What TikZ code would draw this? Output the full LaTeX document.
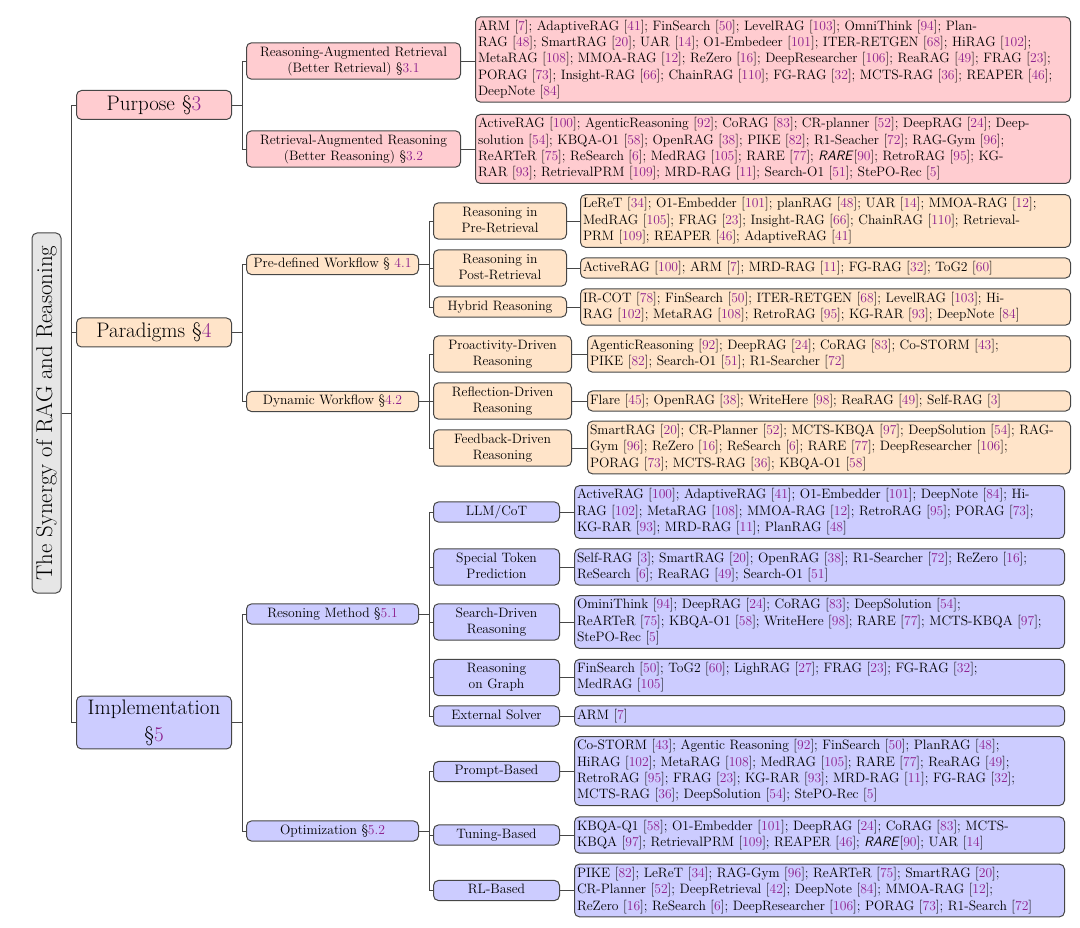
\documentclass[tikz,border=0pt]{standalone}
\usepackage{xcolor}
\usepackage{tikz}

\definecolor{citecol}{RGB}{140,30,140}
\definecolor{boxline}{RGB}{70,70,70}
\definecolor{rootfill}{RGB}{230,230,230}
\definecolor{pinkfill}{RGB}{255,204,208}
\definecolor{peachfill}{RGB}{255,228,201}
\definecolor{lavfill}{RGB}{204,204,255}

\newcommand{\rf}[1]{[{\color{citecol}#1}]}
\newcommand{\secref}[1]{\S{\color{citecol}#1}}

\begin{document}
\begin{tikzpicture}[x=1pt, y=-1pt,
    box/.style={draw=boxline, line width=1pt, rounded corners=5pt},
    small/.style={font=\fontsize{13.6}{16.3}\selectfont, inner ysep=1.9pt,
        execute at begin node=\strut, execute at end node=\strut},
    catA/.style={box, font=\fontsize{21}{27}\selectfont, align=center, inner xsep=0pt,
        inner ysep=3.5pt, minimum height=29pt, anchor=west, text width=155pt},
    catB/.style={box, small, align=center, inner xsep=0pt, anchor=west, text width=#1},
    leaf/.style={box, small, align=left, inner xsep=2.5pt, anchor=west, text width=#1},
    link/.style={draw=boxline, line width=0.8pt},
    pur/.style={fill=pinkfill},
    par/.style={fill=peachfill},
    imp/.style={fill=lavfill}]
    \useasboundingbox (0,0) rectangle (1080,928);

    % Root
    \node[box, fill=rootfill, rotate=90, minimum width=360pt, minimum height=29pt, inner sep=0pt,
        font=\fontsize{22.8}{26}\selectfont] (root) at (46.5,413) {The Synergy of RAG and Reasoning};

    % Level 1
    \node[catA, pur] (purpose) at (76,105) {Purpose \secref{3}};
    \node[catA, par] (paradigm) at (76,332.5) {Paradigms \secref{4}};
    \node[catA, imp] (implem) at (76,722.5) {Implementation\\\secref{5}};

    \draw[link] (root.south) -- ++(10,0) |- (purpose.west);
    \draw[link] (root.south) -- ++(10,0) |- (paradigm.west);
    \draw[link] (root.south) -- ++(10,0) |- (implem.west);

    % Purpose
    \node[catB=214pt, pur] (rar) at (246,61) {Reasoning-Augmented Retrieval\\(Better Retrieval) \secref{3.1}};
    \node[catB=214pt, pur] (rarg) at (246,149) {Retrieval-Augmented Reasoning\\(Better Reasoning) \secref{3.2}};
    \draw[link] (purpose.east) -- ++(10,0) |- (rar.west);
    \draw[link] (purpose.east) -- ++(10,0) |- (rarg.west);

    \node[leaf=590pt, pur] (lrar) at (475,59.5) {ARM \rf{7}; AdaptiveRAG \rf{41}; FinSearch \rf{50}; LevelRAG \rf{103}; OmniThink \rf{94}; Plan-\\
        RAG \rf{48}; SmartRAG \rf{20}; UAR \rf{14}; O1-Embedeer \rf{101}; ITER-RETGEN \rf{68}; HiRAG \rf{102};\\
        MetaRAG \rf{108}; MMOA-RAG \rf{12}; ReZero \rf{16}; DeepResearcher \rf{106}; ReaRAG \rf{49}; FRAG \rf{23};\\
        PORAG \rf{73}; Insight-RAG \rf{66}; ChainRAG \rf{110}; FG-RAG \rf{32}; MCTS-RAG \rf{36}; REAPER \rf{46};\\
        DeepNote \rf{84}};
    \node[leaf=590pt, pur] (lrarg) at (475,149) {ActiveRAG \rf{100}; AgenticReasoning \rf{92}; CoRAG \rf{83}; CR-planner \rf{52}; DeepRAG \rf{24}; Deep-\\
        solution \rf{54}; KBQA-O1 \rf{58}; OpenRAG \rf{38}; PIKE \rf{82}; R1-Seacher \rf{72}; RAG-Gym \rf{96};\\
        ReARTeR \rf{75}; ReSearch \rf{6}; MedRAG \rf{105}; RARE \rf{77}; \textsf{\textit{RARE}}\rf{90}; RetroRAG \rf{95}; KG-\\
        RAR \rf{93}; RetrievalPRM \rf{109}; MRD-RAG \rf{11}; Search-O1 \rf{51}; StePO-Rec \rf{5}};
    \draw[link] (rar.east) -- (rar.east -| lrar.west);
    \draw[link] (rarg.east) -- (rarg.east -| lrarg.west);

    % Paradigms
    \node[catB=172pt, par] (predef) at (246,264.5) {Pre-defined Workflow \S\ {\color{citecol}4.1}};
    \node[catB=172pt, par] (dynwf) at (246,401.5) {Dynamic Workflow \secref{4.2}};
    \draw[link] (paradigm.east) -- ++(10,0) |- (predef.west);
    \draw[link] (paradigm.east) -- ++(10,0) |- (dynwf.west);

    \node[catB=133pt, par] (preret) at (433,221) {Reasoning in\\Pre-Retrieval};
    \node[catB=133pt, par] (postret) at (433,268) {Reasoning in\\Post-Retrieval};
    \node[catB=133pt, par] (hybrid) at (433,307) {Hybrid Reasoning};
    \draw[link] (predef.east) -- ++(10,0) |- (preret.west);
    \draw[link] (predef.east) -- ++(10,0) |- (postret.west);
    \draw[link] (predef.east) -- ++(10,0) |- (hybrid.west);

    \node[catB=138pt, par] (proact) at (433,354) {Proactivity-Driven\\Reasoning};
    \node[catB=138pt, par] (reflect) at (433,401) {Reflection-Driven\\Reasoning};
    \node[catB=138pt, par] (feedbk) at (433,448) {Feedback-Driven\\Reasoning};
    \draw[link] (dynwf.east) -- ++(10,0) |- (proact.west);
    \draw[link] (dynwf.east) -- ++(10,0) |- (reflect.west);
    \draw[link] (dynwf.east) -- ++(10,0) |- (feedbk.west);

    \node[leaf=485pt, par] (lpre) at (580,221) {LeReT \rf{34}; O1-Embedder \rf{101}; planRAG \rf{48}; UAR \rf{14}; MMOA-RAG \rf{12};\\
        MedRAG \rf{105}; FRAG \rf{23}; Insight-RAG \rf{66}; ChainRAG \rf{110}; Retrieval-\\
        PRM \rf{109}; REAPER \rf{46}; AdaptiveRAG \rf{41}};
    \node[leaf=485pt, par] (lpost) at (580,268) {ActiveRAG \rf{100}; ARM \rf{7}; MRD-RAG \rf{11}; FG-RAG \rf{32}; ToG2 \rf{60}};
    \node[leaf=485pt, par] (lhyb) at (580,307) {IR-COT \rf{78}; FinSearch \rf{50}; ITER-RETGEN \rf{68}; LevelRAG \rf{103}; Hi-\\
        RAG \rf{102}; MetaRAG \rf{108}; RetroRAG \rf{95}; KG-RAR \rf{93}; DeepNote \rf{84}};
    \node[leaf=478pt, par] (lpro) at (587,354) {AgenticReasoning \rf{92}; DeepRAG \rf{24}; CoRAG \rf{83}; Co-STORM \rf{43};\\
        PIKE \rf{82}; Search-O1 \rf{51}; R1-Searcher \rf{72}};
    \node[leaf=478pt, par] (lref) at (587,401) {Flare \rf{45}; OpenRAG \rf{38}; WriteHere \rf{98}; ReaRAG \rf{49}; Self-RAG \rf{3}};
    \node[leaf=478pt, par] (lfee) at (587,447.5) {SmartRAG \rf{20}; CR-Planner \rf{52}; MCTS-KBQA \rf{97}; DeepSolution \rf{54}; RAG-\\
        Gym \rf{96}; ReZero \rf{16}; ReSearch \rf{6}; RARE \rf{77}; DeepResearcher \rf{106};\\
        PORAG \rf{73}; MCTS-RAG \rf{36}; KBQA-O1 \rf{58}};
    \draw[link] (preret.east) -- (preret.east -| lpre.west);
    \draw[link] (postret.east) -- (postret.east -| lpost.west);
    \draw[link] (hybrid.east) -- (hybrid.east -| lhyb.west);
    \draw[link] (proact.east) -- (proact.east -| lpro.west);
    \draw[link] (reflect.east) -- (reflect.east -| lref.west);
    \draw[link] (feedbk.east) -- (feedbk.east -| lfee.west);

    % Implementation
    \node[catB=172pt, imp] (resmeth) at (246,614) {Resoning Method \secref{5.1}};
    \node[catB=172pt, imp] (optim) at (246,831) {Optimization \secref{5.2}};
    \draw[link] (implem.east) -- ++(10,0) |- (resmeth.west);
    \draw[link] (implem.east) -- ++(10,0) |- (optim.west);

    \node[catB=126pt, imp] (llmcot) at (433,512) {LLM/CoT};
    \node[catB=126pt, imp] (spectok) at (433,567) {Special Token\\Prediction};
    \node[catB=126pt, imp] (srchdr) at (433,622) {Search-Driven\\Reasoning};
    \node[catB=126pt, imp] (graph) at (433,677.5) {Reasoning\\on Graph};
    \node[catB=126pt, imp] (extsolv) at (433,716) {External Solver};
    \draw[link] (resmeth.east) -- ++(10,0) |- (llmcot.west);
    \draw[link] (resmeth.east) -- ++(10,0) |- (spectok.west);
    \draw[link] (resmeth.east) -- ++(10,0) |- (srchdr.west);
    \draw[link] (resmeth.east) -- ++(10,0) |- (graph.west);
    \draw[link] (resmeth.east) -- ++(10,0) |- (extsolv.west);

    \node[catB=126pt, imp] (prompt) at (433,771.5) {Prompt-Based};
    \node[catB=126pt, imp] (tuning) at (433,835) {Tuning-Based};
    \node[catB=126pt, imp] (rlbased) at (433,890.5) {RL-Based};
    \draw[link] (optim.east) -- ++(10,0) |- (prompt.west);
    \draw[link] (optim.east) -- ++(10,0) |- (tuning.west);
    \draw[link] (optim.east) -- ++(10,0) |- (rlbased.west);

    \node[leaf=485pt, imp] (lllm) at (574,512) {ActiveRAG \rf{100}; AdaptiveRAG \rf{41}; O1-Embedder \rf{101}; DeepNote \rf{84}; Hi-\\
        RAG \rf{102}; MetaRAG \rf{108}; MMOA-RAG \rf{12}; RetroRAG \rf{95}; PORAG \rf{73};\\
        KG-RAR \rf{93}; MRD-RAG \rf{11}; PlanRAG \rf{48}};
    \node[leaf=485pt, imp] (lspe) at (574,567) {Self-RAG \rf{3}; SmartRAG \rf{20}; OpenRAG \rf{38}; R1-Searcher \rf{72}; ReZero \rf{16};\\
        ReSearch \rf{6}; ReaRAG \rf{49}; Search-O1 \rf{51}};
    \node[leaf=485pt, imp] (lsrc) at (574,622) {OminiThink \rf{94}; DeepRAG \rf{24}; CoRAG \rf{83}; DeepSolution \rf{54};\\
        ReARTeR \rf{75}; KBQA-O1 \rf{58}; WriteHere \rf{98}; RARE \rf{77}; MCTS-KBQA \rf{97};\\
        StePO-Rec \rf{5}};
    \node[leaf=485pt, imp] (lgra) at (574,677.5) {FinSearch \rf{50}; ToG2 \rf{60}; LighRAG \rf{27}; FRAG \rf{23}; FG-RAG \rf{32};\\
        MedRAG \rf{105}};
    \node[leaf=485pt, imp] (lext) at (574,716) {ARM \rf{7}};
    \node[leaf=485pt, imp] (lprm) at (574,771) {Co-STORM \rf{43}; Agentic Reasoning \rf{92}; FinSearch \rf{50}; PlanRAG \rf{48};\\
        HiRAG \rf{102}; MetaRAG \rf{108}; MedRAG \rf{105}; RARE \rf{77}; ReaRAG \rf{49};\\
        RetroRAG \rf{95}; FRAG \rf{23}; KG-RAR \rf{93}; MRD-RAG \rf{11}; FG-RAG \rf{32};\\
        MCTS-RAG \rf{36}; DeepSolution \rf{54}; StePO-Rec \rf{5}};
    \node[leaf=485pt, imp] (ltun) at (574,835) {KBQA-Q1 \rf{58}; O1-Embedder \rf{101}; DeepRAG \rf{24}; CoRAG \rf{83}; MCTS-\\
        KBQA \rf{97}; RetrievalPRM \rf{109}; REAPER \rf{46}; \textsf{\textit{RARE}}\rf{90}; UAR \rf{14}};
    \node[leaf=485pt, imp] (lrl) at (574,890.5) {PIKE \rf{82}; LeReT \rf{34}; RAG-Gym \rf{96}; ReARTeR \rf{75}; SmartRAG \rf{20};\\
        CR-Planner \rf{52}; DeepRetrieval \rf{42}; DeepNote \rf{84}; MMOA-RAG \rf{12};\\
        ReZero \rf{16}; ReSearch \rf{6}; DeepResearcher \rf{106}; PORAG \rf{73}; R1-Search \rf{72}};
    \draw[link] (llmcot.east) -- (llmcot.east -| lllm.west);
    \draw[link] (spectok.east) -- (spectok.east -| lspe.west);
    \draw[link] (srchdr.east) -- (srchdr.east -| lsrc.west);
    \draw[link] (graph.east) -- (graph.east -| lgra.west);
    \draw[link] (extsolv.east) -- (extsolv.east -| lext.west);
    \draw[link] (prompt.east) -- (prompt.east -| lprm.west);
    \draw[link] (tuning.east) -- (tuning.east -| ltun.west);
    \draw[link] (rlbased.east) -- (rlbased.east -| lrl.west);
\end{tikzpicture}
\end{document}
